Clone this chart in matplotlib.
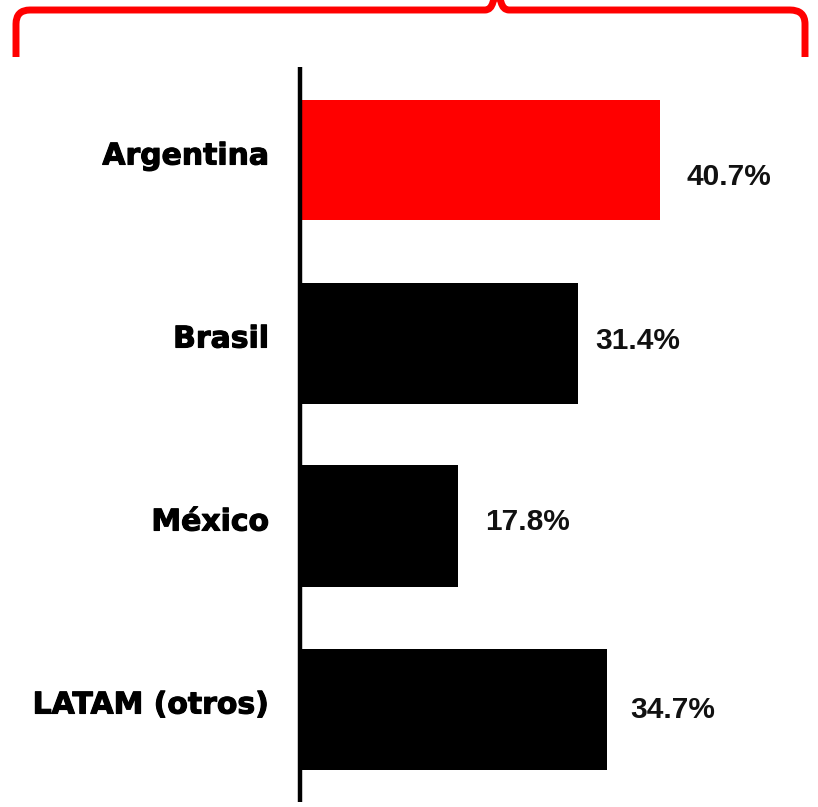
import matplotlib.pyplot as plt
import matplotlib.patheffects as pe
from matplotlib.path import Path
from matplotlib.patches import PathPatch

paises = ['Argentina', 'Brasil', 'México', 'LATAM (otros)']
valores = [40.7, 31.4, 17.8, 34.7]
colores = ['#ff0000', '#000000', '#000000', '#000000']

W, H = 818, 807
px = 8.82          # pixels por punto porcentual
x0 = 300           # posicion del eje vertical (px)
y_c = [160, 344, 526, 710]   # centro de cada barra (px)
paso = 183.0

fig = plt.figure(figsize=(W / 100, H / 100), dpi=100)
ax = fig.add_axes([0, 0, 1, 1])
ax.set_xlim(-x0 / px, (W - x0) / px)
# y en unidades de barra: 0..3
ax.set_ylim((H - y_c[0]) / paso, -y_c[0] / paso)
ax.axis('off')

pos = list(range(len(paises)))
ax.barh(pos, valores, height=121 / paso, color=colores, left=0.1)
ax.vlines(0, (67 - y_c[0]) / paso, (802 - y_c[0]) / paso, color='black', lw=3.2)

# etiquetas de pais, con trazo fino para engrosarlas
grueso = [pe.Stroke(linewidth=0.8, foreground='black'), pe.Normal()]
for i, p in enumerate(paises):
    ax.text(-31 / px, i - 4 / paso, p, ha='right', va='center',
            fontsize=21.5, fontweight='bold', family='DejaVu Sans',
            path_effects=grueso)

# etiquetas de valor (separacion y desplazamiento en px)
dx = [28, 18, 28, 24]
dy = [17, -2, -4, 1]
for i, v in enumerate(valores):
    ax.text(v + dx[i] / px, i + dy[i] / paso, f'{v:.1f}%', ha='left', va='center',
            fontsize=21.5, fontweight='bold', family='Liberation Sans', color='#111111')

# llave roja superior
ov = fig.add_axes([0, 0, 1, 1], facecolor='none')
ov.set_xlim(0, W)
ov.set_ylim(H, 0)
ov.axis('off')
yl = 10
verts = [(16, 57), (16, 24), (16, yl), (30, yl),
         (485, yl), (491, yl), (493, 2), (495, -4), (497, -4),
         (499, -4), (501, 2), (503, yl), (509, yl),
         (790, yl), (805, yl), (805, 24), (805, 57)]
codes = [Path.MOVETO, Path.LINETO, Path.CURVE3, Path.CURVE3,
         Path.LINETO, Path.CURVE3, Path.CURVE3, Path.CURVE3, Path.CURVE3,
         Path.CURVE3, Path.CURVE3, Path.CURVE3, Path.CURVE3,
         Path.LINETO, Path.CURVE3, Path.CURVE3, Path.LINETO]
ov.add_patch(PathPatch(Path(verts, codes), fill=False, ec='#ff0000', lw=5,
                       joinstyle='round', capstyle='butt'))

fig.savefig('out.png', dpi=100)
